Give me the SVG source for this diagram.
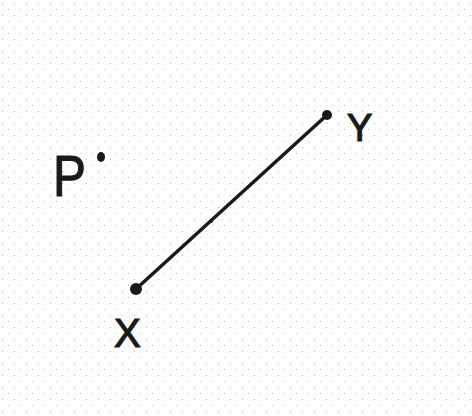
<svg xmlns="http://www.w3.org/2000/svg" width="472" height="416" viewBox="0 0 472 416">
<defs>
<pattern id="dots" width="12" height="12" patternUnits="userSpaceOnUse">
<rect x="2" y="3" width="1" height="1" fill="#b8b8b8"/>
<rect x="8" y="9" width="1" height="1" fill="#c8c8c8"/>
</pattern>
<style>
.lbl{font-family:"Liberation Sans","DejaVu Sans",sans-serif;fill:#1a1a1a;stroke:#1a1a1a;stroke-width:1.2;font-weight:normal}
.pt{fill:#1a1a1a}
</style>
</defs>
<rect width="472" height="416" fill="#ffffff"/>
<rect width="472" height="416" fill="url(#dots)"/>
<g id="connectors">
<line x1="136" y1="289" x2="327" y2="115" stroke="#1a1a1a" stroke-width="3.5" stroke-linecap="round"/>
<circle cx="211" cy="221" r="2" class="pt"/>
</g>
<g id="node-P">
<text x="53" y="196" class="lbl" font-size="58" transform="translate(53 196) scale(0.85 1) translate(-53 -196)">P</text>
<ellipse cx="101" cy="157" rx="4" ry="5" class="pt"/>
</g>
<g id="node-Y">
<circle cx="327" cy="115" r="5" class="pt"/>
<text x="347" y="141" class="lbl" font-size="38">Y</text>
</g>
<g id="node-X">
<circle cx="136" cy="289" r="6" class="pt"/>
<text x="114" y="347" class="lbl" font-size="40">X</text>
</g>
</svg>
